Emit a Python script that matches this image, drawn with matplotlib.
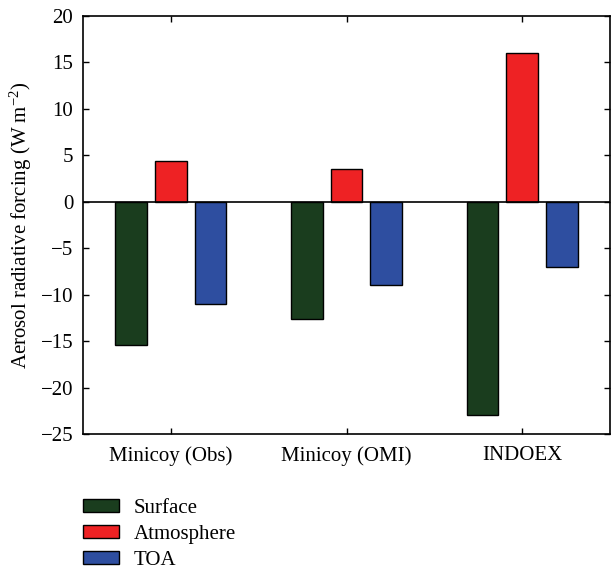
import numpy as np
import matplotlib
matplotlib.use('Agg')
import matplotlib.pyplot as plt

plt.rcParams['font.family'] = ['Liberation Serif', 'DejaVu Serif']
plt.rcParams['mathtext.default'] = 'regular'

# data
sites = ['Minicoy (Obs)', 'Minicoy (OMI)', 'INDOEX']
surface = [-15.4, -12.6, -23.0]
atmosphere = [4.4, 3.5, 16.0]
toa = [-11.0, -9.0, -7.0]

series = [('Surface', surface, '#1a3d1e'),
          ('Atmosphere', atmosphere, '#ee2224'),
          ('TOA', toa, '#2e4ea0')]

fig = plt.figure(figsize=(6.11, 5.72), dpi=100)
ax = fig.add_axes([83/611, 1-434/572, 527/611, 418/572])

x = np.arange(1, len(sites)+1)
w = 0.18
off = 0.225
for i, (name, vals, col) in enumerate(series):
    ax.bar(x + (i-1)*off, vals, w, color=col, edgecolor='black', linewidth=1.0, label=name, zorder=2)

ax.axhline(0, color='black', linewidth=1.2, zorder=3)
ax.set_xlim(0.5, 3.5)
ax.set_ylim(-25, 20)
ax.set_yticks(np.arange(-25, 21, 5))
ax.set_xticks(x)
ax.set_xticklabels(sites)
ax.tick_params(direction='in', top=True, right=True, labelsize=15, length=4, width=1, pad=7)
ax.tick_params(axis='x', pad=9)
for s in ax.spines.values():
    s.set_linewidth(1.2)
ax.set_ylabel('Aerosol radiative forcing (W m$^{-2}$)', fontsize=15, labelpad=5)

fig.legend(loc='upper left', bbox_to_anchor=(83/611, 1-499/572), frameon=False, fontsize=15,
           handlelength=1.73, handleheight=0.6, handletextpad=0.7, labelspacing=0.34,
           borderaxespad=0, borderpad=0)

fig.savefig('out.png', dpi=100)
